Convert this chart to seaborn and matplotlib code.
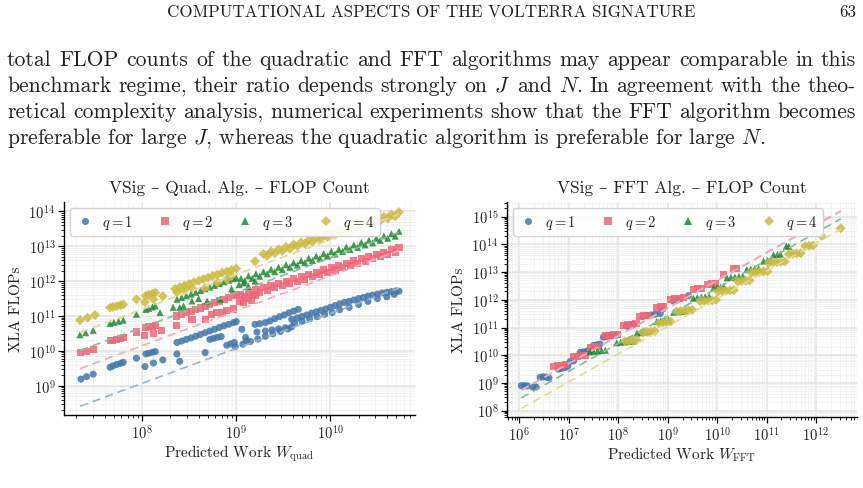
import numpy as np
import pandas as pd
import matplotlib
matplotlib.use("Agg")
import matplotlib.pyplot as plt
import seaborn as sns
from matplotlib.ticker import FixedLocator, LogLocator, NullFormatter, LogFormatterMathtext
from matplotlib.colors import to_rgb

# --- data, stored as log10 values ---
# left panel: quadratic algorithm, x = log10 W_quad, y = log10 XLA FLOPs
quad_w_q1 = [7.35, 7.41, 7.48, 7.66, 7.69, 7.73, 7.77, 7.80, 7.94, 8.04, 8.07, 8.11, 8.14,
             8.03, 8.12, 8.22, 8.37, 8.40, 8.67,
             8.37, 8.42, 8.47, 8.52, 8.57, 8.62, 8.67, 8.72, 8.77, 8.82, 8.87, 8.92, 8.97, 9.00,
             8.72, 8.76, 8.80, 8.84, 8.90, 8.94, 8.98,
             9.06, 9.10, 9.11, 9.20, 9.22,
             9.25, 9.31, 9.36, 9.41, 9.46, 9.51, 9.56, 9.61, 9.66,
             9.31, 9.38, 9.45, 9.52, 9.59,
             8.99, 9.07, 9.15, 9.23, 9.31, 9.39, 9.47, 9.55,
             9.59, 9.65, 9.70, 9.75, 9.80, 9.85, 9.90, 9.95, 10.00, 10.05, 10.10, 10.15,
             10.20, 10.25, 10.30, 10.35, 10.40, 10.45, 10.50, 10.55, 10.60, 10.65, 10.70, 10.73,
             9.62, 9.70, 9.78, 9.86, 9.94, 10.02, 10.10, 10.20, 10.30, 10.40, 10.50, 10.60, 10.68]
quad_f_q1 = [9.19, 9.26, 9.33, 9.53, 9.57, 9.61, 9.64, 9.67, 9.79, 9.91, 9.93, 9.96, 9.98,
             9.55, 9.65, 9.74, 9.91, 9.70, 9.95,
             10.24, 10.28, 10.33, 10.37, 10.42, 10.47, 10.52, 10.57, 10.62, 10.67, 10.72, 10.76, 10.81, 10.84,
             10.33, 10.36, 10.39, 10.41, 10.16, 10.20, 10.24,
             10.62, 10.38, 10.29, 10.76, 10.54,
             10.78, 10.81, 10.86, 10.92, 10.98, 11.03, 11.09, 11.14, 11.19,
             10.57, 10.60, 10.63, 10.66, 10.69,
             10.12, 10.19, 10.27, 10.34, 10.42, 10.49, 10.56, 10.63,
             10.90, 10.95, 10.99, 11.03, 11.08, 11.12, 11.16, 11.20, 11.25, 11.30, 11.35, 11.39,
             11.42, 11.46, 11.50, 11.53, 11.57, 11.60, 11.63, 11.66, 11.68, 11.70, 11.72, 11.71,
             10.80, 10.85, 10.92, 10.98, 11.05, 11.10, 11.18, 11.25, 11.33, 11.42, 11.50, 11.55, 11.62]

quad_w_q2 = [7.35, 7.41, 7.48, 7.66, 7.69, 7.73, 7.77, 7.80, 7.94, 8.03, 8.12, 8.21,
             8.04, 8.07, 8.11, 8.14,
             8.37, 8.53, 8.67, 8.79, 8.90, 8.97, 8.74, 8.85,
             8.37, 8.42, 8.47, 8.52, 8.57, 8.62, 8.67, 8.72, 8.77, 8.82, 8.87, 8.92, 8.97, 9.00,
             9.04, 9.08, 9.12, 9.16, 9.20,
             9.05, 9.13, 9.21, 9.29, 9.37, 9.45, 9.53, 9.61, 9.69, 9.77, 9.85, 9.93, 10.01,
             10.09, 10.17, 10.25, 10.33, 10.41, 10.49, 10.57, 10.65, 10.73,
             9.09, 9.17, 9.25, 9.33, 9.41, 9.49, 9.57, 9.65, 9.73, 9.81, 9.89, 9.97, 10.05,
             10.13, 10.21, 10.29, 10.37, 10.45, 10.53, 10.61, 10.69]
quad_f_q2 = [9.95, 9.98, 10.05, 10.29, 10.31, 10.33, 10.36, 10.38, 10.54, 10.43, 10.50, 10.59,
             10.66, 10.69, 10.71, 10.74,
             10.73, 10.90, 10.91, 11.11, 11.16, 11.20, 11.05, 11.10,
             11.00, 11.04, 11.09, 11.13, 11.18, 11.23, 11.28, 11.33, 11.38, 11.43, 11.48, 11.53, 11.58, 11.62,
             11.43, 11.38, 11.50, 11.45, 11.58,
             11.62, 11.68, 11.75, 11.81, 11.87, 11.94, 12.00, 12.07, 12.13, 12.19, 12.26, 12.32, 12.39,
             12.45, 12.51, 12.58, 12.64, 12.71, 12.77, 12.83, 12.90, 12.96,
             11.55, 11.61, 11.68, 11.74, 11.81, 11.87, 11.93, 12.00, 12.06, 12.13, 12.19, 12.25, 12.32,
             12.38, 12.45, 12.51, 12.57, 12.64, 12.70, 12.77, 12.83]

quad_w_q3 = [7.34, 7.40, 7.48, 7.66, 7.70, 7.75, 7.80, 7.94, 8.04, 8.07, 8.11, 8.14,
             8.19, 8.33, 8.40, 8.44, 8.53, 8.60, 8.69, 8.83, 8.95,
             8.37, 8.42, 8.47, 8.52, 8.57, 8.62, 8.67, 8.72, 8.77, 8.82, 8.87, 8.92, 8.97, 9.00,
             9.03, 9.08, 9.13, 9.20,
             9.05, 9.13, 9.21, 9.29, 9.37, 9.45, 9.53, 9.61, 9.69, 9.77, 9.85, 9.93, 10.01,
             10.09, 10.17, 10.25, 10.33, 10.41, 10.49, 10.57, 10.65, 10.73,
             9.09, 9.17, 9.25, 9.33, 9.41, 9.49, 9.57, 9.65, 9.73, 9.81, 9.89, 9.97, 10.05,
             10.13, 10.21, 10.29, 10.37, 10.45, 10.53, 10.61, 10.69]
quad_f_q3 = [10.46, 10.52, 10.59, 10.79, 10.82, 10.85, 10.88, 11.05, 11.19, 11.22, 11.26, 11.29,
             11.10, 11.25, 11.25, 11.29, 11.43, 11.50, 11.43, 11.48, 11.78,
             11.48, 11.53, 11.58, 11.63, 11.68, 11.73, 11.78, 11.83, 11.88, 11.93, 11.98, 12.03, 12.07, 12.10,
             11.90, 11.95, 11.85, 12.00,
             12.08, 12.15, 12.21, 12.27, 12.34, 12.40, 12.47, 12.53, 12.59, 12.66, 12.72, 12.79, 12.85,
             12.91, 12.98, 13.04, 13.11, 13.17, 13.23, 13.30, 13.36, 13.43,
             12.01, 12.08, 12.14, 12.21, 12.27, 12.33, 12.40, 12.46, 12.53, 12.59, 12.65, 12.72, 12.78,
             12.85, 12.91, 12.97, 13.04, 13.10, 13.17, 13.23, 13.29]

quad_w_q4 = [7.34, 7.42, 7.50, 7.66, 7.69, 7.73, 7.77, 7.80, 7.94, 8.04, 8.07, 8.11, 8.14,
             8.03, 8.12, 8.22,
             8.35, 8.40, 8.45, 8.50, 8.55, 8.60, 8.65, 8.70, 8.75, 8.80, 8.85, 8.90, 8.95, 9.00,
             8.37, 8.45, 8.53, 8.67, 8.80, 8.90, 8.95, 9.20,
             9.29, 9.37, 9.45, 9.53, 9.61, 9.69, 9.77, 9.85, 9.93, 10.01,
             10.09, 10.17, 10.25, 10.33, 10.41, 10.49, 10.57, 10.65, 10.73,
             9.33, 9.41, 9.49, 9.57, 9.65, 9.73, 9.81, 9.89, 9.97,
             10.05, 10.13, 10.21, 10.29, 10.37, 10.45, 10.53, 10.61, 10.69]
quad_f_q4 = [10.88, 10.95, 11.03, 11.24, 11.26, 11.28, 11.31, 11.33, 11.48, 11.58, 11.61, 11.64, 11.67,
             11.40, 11.48, 11.57,
             11.78, 11.83, 11.87, 11.92, 11.97, 12.01, 12.06, 12.10, 12.15, 12.19, 12.24, 12.28, 12.32, 12.36,
             11.68, 11.75, 11.80, 11.80, 11.96, 12.05, 12.15, 12.57,
             12.78, 12.85, 12.91, 12.98, 13.05, 13.11, 13.18, 13.25, 13.31, 13.38,
             13.45, 13.51, 13.58, 13.64, 13.71, 13.78, 13.84, 13.91, 13.98,
             12.73, 12.80, 12.87, 12.93, 13.00, 13.07, 13.13, 13.20, 13.27,
             13.33, 13.40, 13.47, 13.53, 13.60, 13.66, 13.73, 13.80, 13.86]

# right panel: FFT algorithm, x = log10 W_FFT, y = log10 XLA FLOPs
fft_w_q1 = [6.04, 6.10, 6.16, 6.28, 6.34, 6.42, 6.48, 6.54, 6.60, 6.79, 6.85, 6.92, 6.98,
            7.03, 7.10, 7.23, 7.30, 7.37, 7.43, 7.50, 7.57, 7.63, 7.70, 7.78, 7.86, 7.95,
            8.17, 8.23, 8.30, 8.50, 8.58, 8.66, 8.75, 8.85, 8.90, 9.12, 9.20, 9.42]
fft_f_q1 = [8.90, 8.90, 8.89, 8.84, 8.85, 9.20, 9.22, 9.21, 9.18, 9.50, 9.52, 9.55, 9.60,
            9.77, 9.80, 10.10, 10.12, 10.15, 10.18, 10.35, 10.38, 10.40, 10.65, 10.68, 10.70, 10.72,
            11.05, 11.07, 11.10, 11.40, 11.43, 11.45, 11.48, 11.50, 11.67, 11.95, 12.00, 12.15]

fft_w_q2 = [6.70, 6.78, 6.86, 6.94, 7.10, 7.18, 7.26, 7.34, 7.45, 7.52, 7.60, 7.75, 7.83, 7.91, 7.98,
            8.10, 8.18, 8.27, 8.36, 8.44, 8.52, 8.60, 8.78, 8.85, 8.92, 9.05, 9.14, 9.23, 9.32,
            9.52, 9.60, 9.68, 9.80, 9.88, 9.96, 10.13, 10.33, 10.40]
fft_f_q2 = [9.60, 9.62, 9.63, 9.65, 9.95, 9.96, 9.98, 9.99, 10.28, 10.30, 10.31, 10.70, 10.72, 10.74, 10.75,
            11.08, 11.10, 11.12, 11.14, 11.40, 11.42, 11.44, 11.72, 11.74, 11.75, 12.02, 12.04, 12.06, 12.07,
            12.38, 12.40, 12.41, 12.55, 12.57, 12.58, 12.92, 13.12, 13.14]

fft_w_q3 = [7.43, 7.50, 7.58, 7.66, 7.74, 7.97, 8.05, 8.13, 8.21, 8.29, 8.38, 8.46, 8.54, 8.62,
            8.78, 8.86, 8.94, 9.02, 9.12, 9.20, 9.28, 9.36, 9.52, 9.60, 9.68, 9.76, 9.84,
            9.93, 10.00, 10.07, 10.13, 10.20, 10.28, 10.36, 10.44, 10.52, 10.60, 10.68, 10.76, 10.84,
            10.94, 11.02, 11.08, 11.14, 11.22, 11.28, 11.40, 11.45]
fft_f_q3 = [10.12, 10.14, 10.15, 10.17, 10.18, 10.45, 10.47, 10.48, 10.50, 10.51, 10.80, 10.82, 10.84, 10.85,
            11.22, 11.24, 11.26, 11.27, 11.55, 11.57, 11.58, 11.60, 12.06, 12.08, 12.10, 12.11, 12.12,
            12.43, 12.45, 12.46, 12.47, 12.79, 12.81, 12.82, 12.84, 12.85, 13.09, 13.11, 13.12, 13.13,
            13.40, 13.42, 13.43, 13.62, 13.64, 13.65, 13.94, 13.93]

fft_w_q4 = [8.14, 8.22, 8.30, 8.38, 8.50, 8.58, 8.66, 8.74, 8.82, 8.90, 8.98, 9.06,
            9.18, 9.26, 9.34, 9.42, 9.50, 9.66, 9.74, 9.82, 9.90, 9.98,
            10.02, 10.10, 10.18, 10.26, 10.34, 10.42, 10.50, 10.58, 10.66,
            10.70, 10.78, 10.86, 10.94, 11.02, 11.05, 11.13, 11.21, 11.29, 11.37,
            11.45, 11.53, 11.61, 11.69, 11.78, 11.86, 11.94, 12.12, 12.50]
fft_f_q4 = [10.50, 10.52, 10.53, 10.55, 10.82, 10.84, 10.85, 10.87, 11.16, 11.18, 11.19, 11.21,
            11.58, 11.60, 11.61, 11.63, 11.64, 11.95, 11.96, 11.97, 11.98, 12.00,
            12.30, 12.32, 12.33, 12.34, 12.35, 12.66, 12.68, 12.69, 12.70,
            12.98, 13.00, 13.01, 13.02, 13.03, 13.33, 13.35, 13.36, 13.37, 13.38,
            13.65, 13.66, 13.67, 13.68, 13.94, 13.95, 13.96, 14.30, 14.58]

# fitted constants of the dashed reference lines (FLOPs = c * W)
quad_fit = [11.7, 141.0, 468.0, 1550.0]
fft_fit = [501.0, 501.0, 263.0, 110.0]

q_labels = ["$q = 1$", "$q = 2$", "$q = 3$", "$q = 4$"]
colors = ["#4477AA", "#EE6677", "#228833", "#CCBB44"]
markers = ["o", "s", "^", "D"]

header = "COMPUTATIONAL ASPECTS OF THE VOLTERRA SIGNATURE"
page_no = "63"
paragraph = [
    "total FLOP counts of the quadratic and FFT algorithms may appear comparable in this",
    "benchmark regime, their ratio depends strongly on $J$ and $N$. In agreement with the theo-",
    "retical complexity analysis, numerical experiments show that the FFT algorithm becomes",
    "preferable for large $J$, whereas the quadratic algorithm is preferable for large $N$.",
]


def make_frame(ws, fs):
    rows = []
    for lab, w, f in zip(q_labels, ws, fs):
        for a, b in zip(w, f):
            rows.append((lab, 10.0 ** a, 10.0 ** b))
    return pd.DataFrame(rows, columns=["q", "work", "flops"])


def lighten(c, amt=0.45):
    r, g, b = to_rgb(c)
    return (r + (1 - r) * amt, g + (1 - g) * amt, b + (1 - b) * amt)


def decades(lo, hi):
    return [10.0 ** k for k in range(int(np.ceil(np.log10(lo))), int(np.floor(np.log10(hi))) + 1)]


def draw_panel(ax, df, fits, title, xlabel, xlim, ylim):
    sns.scatterplot(data=df, x="work", y="flops", hue="q", style="q",
                    hue_order=q_labels, style_order=q_labels,
                    palette=dict(zip(q_labels, colors)),
                    markers=dict(zip(q_labels, markers)),
                    s=26, alpha=0.85, linewidth=0, ax=ax, zorder=3)
    ax.set_xscale("log")
    ax.set_yscale("log")
    w_lo, w_hi = df["work"].min(), df["work"].max()
    for c, col in zip(fits, colors):
        ax.plot([w_lo, w_hi], [c * w_lo, c * w_hi], ls=(0, (5, 3)), lw=1.2,
                color=lighten(col), zorder=4)
    ax.set_xlim(*xlim)
    ax.set_ylim(*ylim)

    for axis, lim in ((ax.xaxis, xlim), (ax.yaxis, ylim)):
        axis.set_major_locator(FixedLocator(decades(*lim)))
        axis.set_minor_locator(LogLocator(base=10, subs=np.arange(2, 10), numticks=200))
        axis.set_minor_formatter(NullFormatter())
        axis.set_major_formatter(LogFormatterMathtext())
    ax.grid(True, which="major", color="#e3e3e3", lw=1.1)
    ax.grid(True, which="minor", color="#f1f1f1", lw=0.6)
    ax.set_axisbelow(True)
    sns.despine(ax=ax)
    for sp in ("left", "bottom"):
        ax.spines[sp].set_color("black")
        ax.spines[sp].set_linewidth(1.0)
    ax.tick_params(which="major", direction="out", length=4, width=0.9, color="black",
                   labelsize=10.5, bottom=True, left=True, pad=2)
    ax.tick_params(which="minor", direction="out", length=2, width=0.6, color="black",
                   bottom=True, left=True)

    ax.set_title(title, fontsize=12.5, pad=7)
    ax.set_xlabel(xlabel, fontsize=11, labelpad=1)
    ax.set_ylabel("XLA FLOPs", fontsize=11, labelpad=4)
    handles, labels = ax.get_legend_handles_labels()
    ax.legend(handles, labels, loc="upper left", ncol=4, fontsize=10.5,
              frameon=True, fancybox=True, edgecolor="#d0d0d0", framealpha=0.9,
              handletextpad=0.45, columnspacing=1.5, borderpad=0.35,
              borderaxespad=0.4, handlelength=1.4, markerscale=1.0)


def main():
    sns.set_theme(style="whitegrid")
    plt.rcParams["font.family"] = ["cmr10", "DejaVu Serif"]
    plt.rcParams["mathtext.fontset"] = "cm"
    plt.rcParams["axes.formatter.use_mathtext"] = True
    plt.rcParams["axes.unicode_minus"] = False
    plt.rcParams["text.color"] = "#222222"
    plt.rcParams["axes.labelcolor"] = "#222222"
    plt.rcParams["xtick.color"] = "#222222"
    plt.rcParams["ytick.color"] = "#222222"

    W, H = 863, 489
    fig = plt.figure(figsize=(W / 100, H / 100), dpi=100)
    fig.patch.set_facecolor("white")

    quad_df = make_frame([quad_w_q1, quad_w_q2, quad_w_q3, quad_w_q4],
                         [quad_f_q1, quad_f_q2, quad_f_q3, quad_f_q4])
    fft_df = make_frame([fft_w_q1, fft_w_q2, fft_w_q3, fft_w_q4],
                        [fft_f_q1, fft_f_q2, fft_f_q3, fft_f_q4])

    ax1 = fig.add_axes([64 / W, 1 - 416 / H, 351 / W, 213 / H])
    ax2 = fig.add_axes([507 / W, 1 - 418 / H, 350 / W, 215 / H])

    draw_panel(ax1, quad_df, quad_fit, "VSig – Quad. Alg. – FLOP Count",
               r"Predicted Work $W_{\mathrm{quad}}$",
               (10 ** 7.17, 10 ** 10.9), (10 ** 8.16, 10 ** 14.27))
    draw_panel(ax2, fft_df, fft_fit, "VSig – FFT Alg. – FLOP Count",
               r"Predicted Work $W_{\mathrm{FFT}}$",
               (10 ** 5.75, 10 ** 12.83), (10 ** 7.77, 10 ** 15.53))

    # --- page text above the figure ---
    fig.canvas.draw()
    rend = fig.canvas.get_renderer()

    def width_px(s, size):
        t = fig.text(0, 0, s, fontsize=size)
        w = t.get_window_extent(rend).width
        t.remove()
        return w

    hsize = 10 * 527 / width_px(header, 10)
    fig.text(431 / W, 1 - 17 / H, header, fontsize=hsize, ha="center", va="baseline")
    fig.text(856 / W, 1 - 17 / H, page_no, fontsize=hsize, ha="right", va="baseline")

    psize = 10 * 760 / width_px(paragraph[-1], 10)
    x0, x1 = 7, 856
    baselines = [66, 92, 118, 144]
    for i, (line, yb) in enumerate(zip(paragraph, baselines)):
        if i == len(paragraph) - 1:
            fig.text(x0 / W, 1 - yb / H, line, fontsize=psize, va="baseline")
            continue
        words = line.split(" ")
        ws = [width_px(wd, psize) for wd in words]
        gap = (x1 - x0 - sum(ws)) / (len(words) - 1)
        x = x0
        for wd, wdt in zip(words, ws):
            fig.text(x / W, 1 - yb / H, wd, fontsize=psize, va="baseline")
            x += wdt + gap

    fig.savefig("out.png", dpi=100)


if __name__ == "__main__":
    main()
